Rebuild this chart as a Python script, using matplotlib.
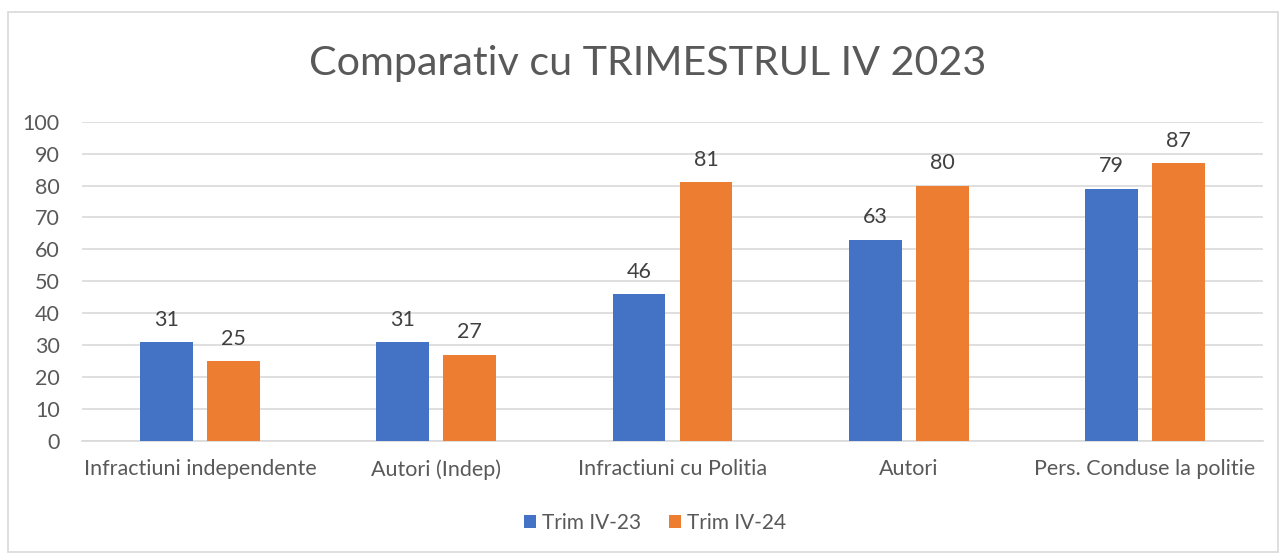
import matplotlib
matplotlib.use("Agg")
import matplotlib.pyplot as plt
from matplotlib.patches import Rectangle
import numpy as np

categories = ["Infractiuni independente", "Autori (Indep)", "Infractiuni cu Politia", "Autori", "Pers. Conduse la politie"]
series_names = ["Trim IV-23", "Trim IV-24"]
trim_iv_23 = [31, 31, 46, 63, 79]
trim_iv_24 = [25, 27, 81, 80, 87]
colors = ["#4472C4", "#ED7D31"]
yticks = [0, 10, 20, 30, 40, 50, 60, 70, 80, 90, 100]

plt.rcParams['font.family'] = ['Lato', 'DejaVu Sans']
TXT = "#595959"
FS = 15.5

W, H = 1281, 555
fig = plt.figure(figsize=(W/100, H/100), dpi=100)
fig.patches.append(Rectangle((8/W, 1-552/H), 1270/W, 540/H, transform=fig.transFigure,
                             fill=False, edgecolor="#d9d9d9", linewidth=1.2))

ax = fig.add_axes([82/W, 1-441/H, (1263-82)/W, (441-121.7)/H])
x = np.arange(len(categories))
bw = 0.224
off = 0.142
b1 = ax.bar(x - off, trim_iv_23, bw, color=colors[0], label=series_names[0], zorder=3)
b2 = ax.bar(x + off, trim_iv_24, bw, color=colors[1], label=series_names[1], zorder=3)
for bars in (b1, b2):
    for r in bars:
        ax.annotate(f"{int(r.get_height())}", (r.get_x() + r.get_width()/2, r.get_height()),
                    xytext=(0, 9), textcoords="offset points", ha="center", va="bottom",
                    fontsize=FS, color="#404040")

ax.set_xlim(-0.5, len(categories) - 0.5)
ax.set_ylim(0, 100)
ax.set_yticks(yticks)
ax.set_xticks(x)
ax.set_xticklabels(categories)
ax.tick_params(axis="y", length=0, pad=16, labelsize=FS, labelcolor=TXT)
ax.tick_params(axis="x", length=0, pad=13, labelsize=FS, labelcolor=TXT)
ax.grid(axis="y", color="#d9d9d9", linewidth=1.2, zorder=0)
for s in ["top", "right", "left"]:
    ax.spines[s].set_visible(False)
ax.spines["bottom"].set_color("#d9d9d9")
ax.spines["bottom"].set_linewidth(1.2)

fig.text(648/W, 1-64/H, "Comparativ cu TRIMESTRUL IV 2023", ha="center", va="center",
         fontsize=29.7, color=TXT)

fig.legend(loc="center", bbox_to_anchor=(655/W, 1-523/H), ncol=2, frameon=False,
           fontsize=15, labelcolor=TXT, handlelength=0.6, handleheight=0.6,
           handletextpad=0.3, columnspacing=1.3)

fig.savefig("out.png", dpi=100, facecolor="white")
